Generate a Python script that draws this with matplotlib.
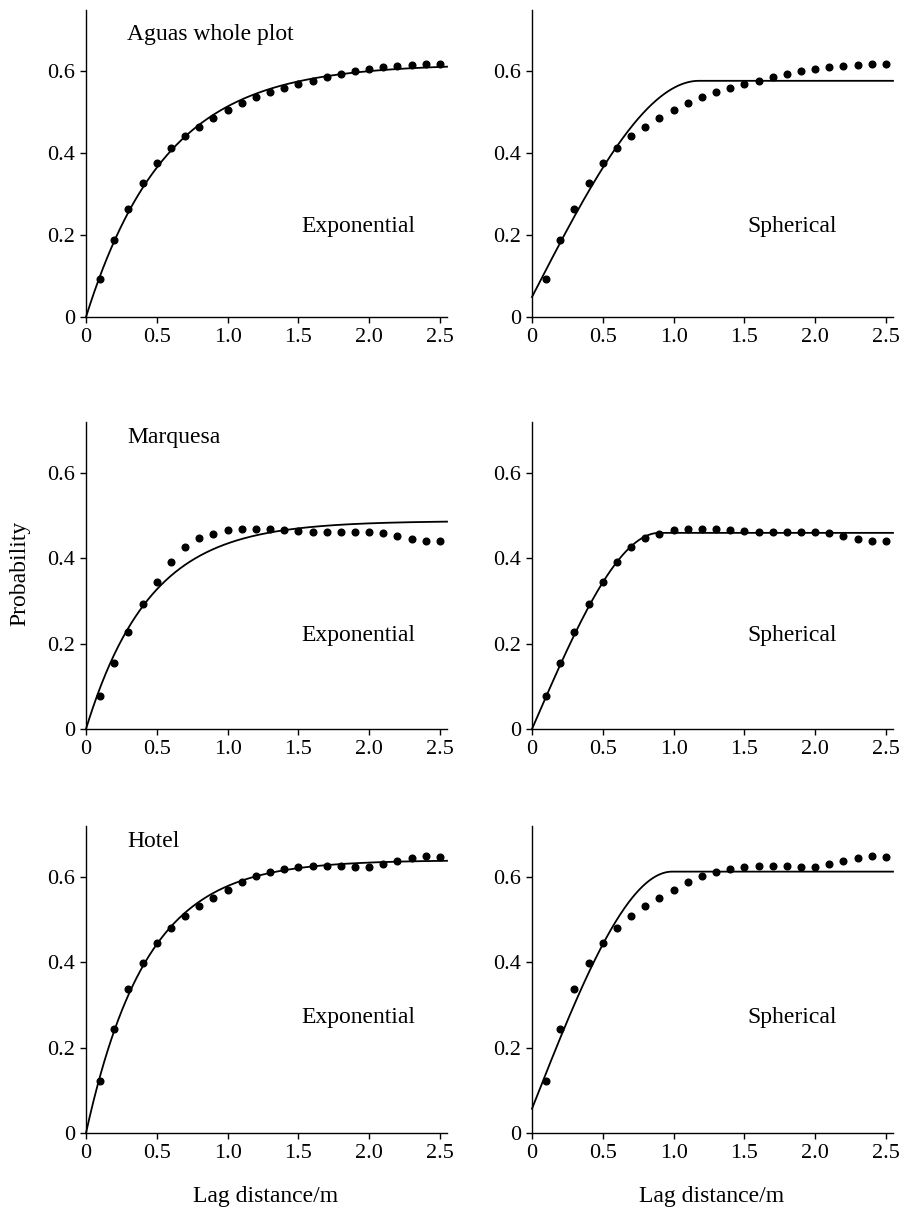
import numpy as np
import matplotlib
matplotlib.use("Agg")
import matplotlib.pyplot as plt

plt.rcParams['font.family'] = ['Liberation Serif', 'DejaVu Serif']

# ---------------- data ----------------
lag = [0.1, 0.2, 0.3, 0.4, 0.5, 0.6, 0.7, 0.8, 0.9, 1.0, 1.1, 1.2, 1.3,
       1.4, 1.5, 1.6, 1.7, 1.8, 1.9, 2.0, 2.1, 2.2, 2.3, 2.4, 2.5]

aguas = [0.094, 0.187, 0.265, 0.328, 0.376, 0.413, 0.441, 0.464, 0.487, 0.506,
         0.523, 0.537, 0.550, 0.560, 0.570, 0.577, 0.586, 0.594, 0.600, 0.606,
         0.610, 0.614, 0.616, 0.619, 0.619]

marquesa = [0.077, 0.154, 0.228, 0.293, 0.345, 0.392, 0.427, 0.448, 0.458, 0.466,
            0.469, 0.470, 0.469, 0.466, 0.464, 0.463, 0.462, 0.462, 0.462, 0.463,
            0.459, 0.452, 0.445, 0.441, 0.440]

hotel = [0.123, 0.245, 0.337, 0.398, 0.445, 0.480, 0.509, 0.532, 0.550, 0.569,
         0.588, 0.602, 0.613, 0.620, 0.625, 0.627, 0.627, 0.626, 0.624, 0.623,
         0.631, 0.639, 0.645, 0.649, 0.647]

site_names = ["Aguas whole plot", "Marquesa", "Hotel"]
model_names = ["Exponential", "Spherical"]

# fitted model parameters: (nugget, partial sill, range)
exp_params = [(0.0, 0.618, 0.56), (0.0, 0.488, 0.45), (0.0, 0.640, 0.425)]
sph_params = [(0.049, 0.528, 1.18), (0.0, 0.460, 0.90), (0.057, 0.556, 0.99)]

y_tops = [0.75, 0.72, 0.72]
x_ticks = [0, 0.5, 1.0, 1.5, 2.0, 2.5]
x_ticklabels = ["0", "0.5", "1.0", "1.5", "2.0", "2.5"]
y_ticks = [0, 0.2, 0.4, 0.6]
y_ticklabels = ["0", "0.2", "0.4", "0.6"]
model_label_y = [0.22, 0.22, 0.27]
site_label_y = [0.69, 0.683, 0.684]


def exponential(h, c0, c, r):
    return c0 + c * (1 - np.exp(-h / r))


def spherical(h, c0, c, a):
    u = np.minimum(h / a, 1.0)
    return c0 + c * (1.5 * u - 0.5 * u ** 3)


series = [aguas, marquesa, hotel]

W, H = 903, 1210
fig = plt.figure(figsize=(W / 100, H / 100), dpi=100)

col_left = [86, 532]
col_width = 361
row_bottom = [317, 729, 1133]
ax_height = 307
x_max = 2.55

hgrid = np.linspace(0, x_max, 600)

for r in range(3):
    for c in range(2):
        left = col_left[c] / W
        bottom = 1 - row_bottom[r] / H
        ax = fig.add_axes([left, bottom, col_width / W, ax_height / H])
        ax.set_xlim(0, x_max)
        ax.set_ylim(0, y_tops[r])
        for s in ['top', 'right']:
            ax.spines[s].set_visible(False)
        for s in ['left', 'bottom']:
            ax.spines[s].set_linewidth(1.0)
        ax.set_xticks(x_ticks)
        ax.set_xticklabels(x_ticklabels)
        ax.set_yticks(y_ticks)
        ax.set_yticklabels(y_ticklabels)
        ax.tick_params(direction='out', length=4, width=1.0, labelsize=16, pad=4)

        if c == 0:
            yfit = exponential(hgrid, *exp_params[r])
        else:
            yfit = spherical(hgrid, *sph_params[r])
        ax.plot(hgrid, yfit, color='black', lw=1.3, clip_on=False)
        ax.plot(lag, series[r], 'o', color='black', markersize=4.8, clip_on=False)

        ax.text(1.52, model_label_y[r], model_names[c], fontsize=17, va='center', ha='left')
        if c == 0:
            ax.text(0.29, site_label_y[r], site_names[r], fontsize=17,
                    va='center', ha='left')

fig.text(20 / W, 1 - 573 / H, "Probability", rotation=90, fontsize=17,
         ha='center', va='center')
for c in range(2):
    xc = (col_left[c] + 180) / W
    fig.text(xc, 1 - 1202 / H, "Lag distance/m", fontsize=17, ha='center', va='baseline')

fig.savefig("out.png", dpi=100)
